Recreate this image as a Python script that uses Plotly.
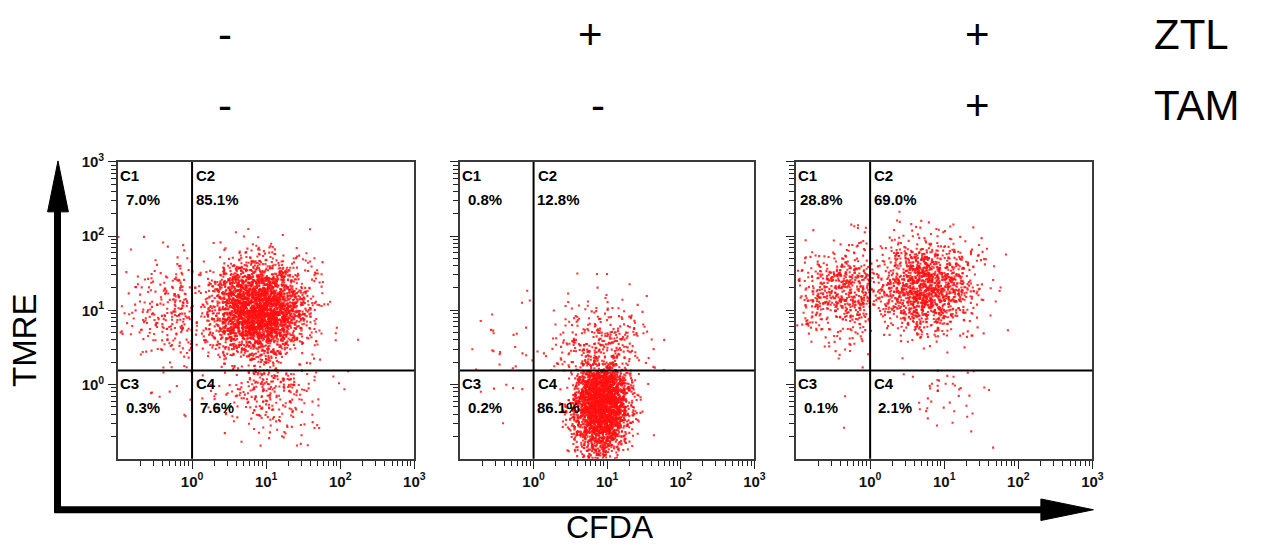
import numpy as np
import plotly.graph_objects as go

# ---- canvas ----
W, H = 1267, 546
FONT = "Liberation Sans"

# ---- treatment rows shown above the panels ----
ztl_marks = ["-", "+", "+"]
tam_marks = ["-", "-", "+"]
row_names = ["ZTL", "TAM"]

# ---- quadrant gates (log10 units) ----
gate_x = 0.0      # CFDA gate at 10^0
gate_y = 0.19     # TMRE gate (~1.55)

# ---- quadrant percentages C1, C2, C3, C4 per panel ----
pct_ctrl = [7.0, 85.1, 0.3, 7.6]
pct_ztl = [0.8, 12.8, 0.2, 86.1]
pct_ztl_tam = [28.8, 69.0, 0.1, 2.1]

# events drawn per panel
events_total = [3600, 3000, 2000]

# sub-population shape per quadrant: (centre log10 CFDA, centre log10 TMRE, sd x, sd y)
shape_ctrl = [(-0.15, 1.0, 0.40, 0.35), (0.90, 1.0, 0.33, 0.33),
              (-0.30, 0.0, 0.30, 0.30), (1.00, 0.0, 0.35, 0.35)]
shape_ztl = [(-0.30, 0.5, 0.35, 0.35), (0.90, 0.3, 0.30, 0.40),
             (-0.30, 0.0, 0.30, 0.30), (0.93, -0.25, 0.19, 0.35)]
shape_ztl_tam = [(-0.20, 1.25, 0.45, 0.32), (0.75, 1.30, 0.35, 0.30),
                 (-0.30, 0.0, 0.30, 0.30), (1.00, -0.10, 0.25, 0.30)]

panels = [
    (pct_ctrl, shape_ctrl),
    (pct_ztl, shape_ztl),
    (pct_ztl_tam, shape_ztl_tam),
]

AX_MIN, AX_MAX = -1.0, 3.0
rng = np.random.default_rng(7)


def quadrant_ok(q, lx, ly):
    left = lx < gate_x
    top = ly >= gate_y
    inside = (lx > AX_MIN) & (lx < AX_MAX) & (ly > AX_MIN) & (ly < AX_MAX)
    want = [left & top, (~left) & top, left & (~top), (~left) & (~top)][q]
    return want & inside


def sample_quadrant(q, n, cx, cy, sx, sy):
    out_x, out_y = [], []
    got = 0
    while got < n:
        lx = rng.normal(cx, sx, 4 * n + 50)
        ly = rng.normal(cy, sy, 4 * n + 50)
        keep = quadrant_ok(q, lx, ly)
        out_x.append(lx[keep])
        out_y.append(ly[keep])
        got += keep.sum()
    return np.concatenate(out_x)[:n], np.concatenate(out_y)[:n]


fig = go.Figure()

x_domains = [(119 / W, 418 / W), (464 / W, 761 / W), (803 / W, 1102 / W)]
y_domain = (1 - 457 / H, 1 - 154 / H)

major = [1, 10, 100, 1000]
major_txt = ["10<sup>0</sup>", "10<sup>1</sup>", "10<sup>2</sup>", "10<sup>3</sup>"]
minor = [m * 10.0 ** k for k in range(-1, 3) for m in range(2, 10)]

for i, (pct, shape) in enumerate(panels):
    xs, ys = [], []
    for q in range(4):
        n = int(round(events_total[i] * pct[q] / 100.0))
        if n == 0:
            continue
        lx, ly = sample_quadrant(q, n, *shape[q])
        xs.append(lx)
        ys.append(ly)
    lx = np.concatenate(xs)
    ly = np.concatenate(ys)
    sfx = "" if i == 0 else str(i + 1)
    fig.add_trace(go.Scatter(
        x=10 ** lx, y=10 ** ly, mode="markers",
        marker=dict(symbol="square", size=2.1, color="#ff1010", opacity=0.85,
                    line=dict(width=0)),
        xaxis="x" + sfx, yaxis="y" + sfx, showlegend=False, hoverinfo="skip"))

    axis_common = dict(
        type="log", range=[AX_MIN, AX_MAX], showgrid=False, zeroline=False,
        showline=True, mirror=True, linecolor="#3a3a3a", linewidth=1.5,
        ticks="outside", ticklen=8, tickwidth=1, tickcolor="#222",
        tickvals=major, ticktext=major_txt,
        tickfont=dict(family=FONT, size=15, color="#111", weight="bold"),
        minor=dict(tickvals=minor, ticks="outside", ticklen=5, tickwidth=1,
                   tickcolor="#222", showgrid=False),
    )
    fig.update_layout(**{
        "xaxis" + sfx: dict(axis_common, domain=list(x_domains[i]),
                            anchor="y" + sfx, ticklabelstandoff=0),
        "yaxis" + sfx: dict(axis_common, domain=list(y_domain),
                            anchor="x" + sfx, showticklabels=(i == 0),
                            ticklabelstandoff=1),
    })

    # quadrant gates
    xr, yr = "x" + sfx, "y" + sfx
    fig.add_shape(type="line", xref=xr, yref=yr + " domain", x0=1, x1=1, y0=0, y1=1,
                  line=dict(color="black", width=2))
    fig.add_shape(type="line", xref=xr + " domain", yref=yr, x0=0, x1=1,
                  y0=10 ** gate_y, y1=10 ** gate_y, line=dict(color="black", width=2))

    # quadrant names and percentages
    qfont = dict(family=FONT, size=15, color="black", weight="bold")
    spots = [
        (xr + " domain", 0, yr + " domain", 1, 0),
        (xr, gate_x, yr + " domain", 1, 2),
        (xr + " domain", 0, yr, gate_y, 0),
        (xr, gate_x, yr, gate_y, 2),
    ]
    for q, (xref, xv, yref, yv, dx) in enumerate(spots):
        fig.add_annotation(xref=xref, yref=yref, x=xv, y=yv, text="C%d" % (q + 1),
                           showarrow=False, xanchor="left", yanchor="top",
                           xshift=dx, yshift=-3, font=qfont)
        fig.add_annotation(xref=xref, yref=yref, x=xv, y=yv, text="%.1f%%" % pct[q],
                           showarrow=False, xanchor="center", yanchor="top",
                           xshift=25, yshift=-27, font=qfont)


def px(x):
    return x / W


def py(y):
    return 1 - y / H


# big TMRE / CFDA arrows
fig.add_shape(type="line", xref="paper", yref="paper", x0=px(58), x1=px(58),
              y0=py(512), y1=py(200), line=dict(color="black", width=7))
fig.add_shape(type="path", xref="paper", yref="paper", fillcolor="black",
              line=dict(color="black", width=1),
              path="M %f %f L %f %f L %f %f Z" % (px(48), py(205), px(69), py(205),
                                                  px(58.5), py(153)))
fig.add_shape(type="line", xref="paper", yref="paper", x0=px(55), x1=px(1055),
              y0=py(509), y1=py(509), line=dict(color="black", width=7))
fig.add_shape(type="path", xref="paper", yref="paper", fillcolor="black",
              line=dict(color="black", width=1),
              path="M %f %f L %f %f L %f %f Z" % (px(1050), py(498), px(1050), py(520),
                                                  px(1103), py(509)))

big = dict(family=FONT, size=33, color="black")
fig.add_annotation(xref="paper", yref="paper", x=px(24), y=py(336), text="TMRE",
                   textangle=-90, showarrow=False, xanchor="center", yanchor="middle",
                   font=big)
fig.add_annotation(xref="paper", yref="paper", x=px(615), y=0, text="CFDA",
                   showarrow=False, xanchor="center", yanchor="bottom", borderpad=0,
                   font=dict(family=FONT, size=32, color="black"))

# treatment header
head = dict(family=FONT, size=42, color="black")
sign_x = [[227, 596, 986], [227, 603, 986]]
row_y = [24, 96]
for r, marks in enumerate([ztl_marks, tam_marks]):
    for j, m in enumerate(marks):
        fig.add_annotation(xref="paper", yref="paper", x=px(sign_x[r][j]), y=py(row_y[r]),
                           text=m, showarrow=False, xanchor="center", yanchor="middle",
                           font=head)
    fig.add_annotation(xref="paper", yref="paper", x=px(1162), y=py(row_y[r]),
                       text=row_names[r], showarrow=False, xanchor="left",
                       yanchor="middle", font=head)

fig.update_layout(width=W, height=H, margin=dict(l=0, r=0, t=0, b=0),
                  plot_bgcolor="white", paper_bgcolor="white")

fig.write_html("out.html")
